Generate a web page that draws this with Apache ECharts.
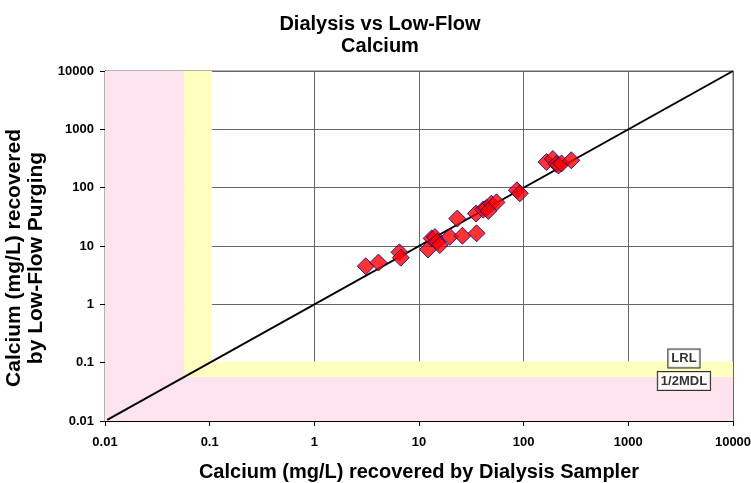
<!DOCTYPE html>
<html><head><meta charset="utf-8">
<script src="https://cdn.jsdelivr.net/npm/echarts@6/dist/echarts.min.js"></script>
<style>html,body{margin:0;padding:0;background:#fff}#c{width:751px;height:483px}</style>
</head><body><div id="c"></div>
<script>
const titleLines = ['Dialysis vs Low-Flow', 'Calcium'];
const xAxisName = 'Calcium (mg/L) recovered by Dialysis Sampler';
const yAxisName = 'Calcium (mg/L) recovered\nby Low-Flow Purging';
const axisMin = 0.01, axisMax = 10000;
const tickLabels = ['0.01','0.1','1','10','100','1000','10000'];
const halfMDL = 0.057;
const LRL = 0.105;
const dialysis = [3.1, 4.1, 6.5, 6.7, 12.2, 13.2, 14.2, 14.9, 15.8, 19.7, 26, 35.5, 23.2, 35, 41, 44, 49, 55, 46, 86, 92, 165, 190, 205, 215, 230, 285];
const lowFlow  = [4.5, 5.2, 7.8, 6.3, 8.7, 13.5, 14.2, 11.8, 10.4, 14.4, 15, 16.5, 29.5, 36, 42, 45, 53, 56, 40, 90, 80, 275, 310, 255, 240, 260, 295];
const oneToOne = [[0.0105, 0.0105], [10000, 10000]];
const refLabels = [{text:'LRL', x:3400, y:0.118}, {text:'1/2MDL', x:3400, y:0.0485}];

const chart = echarts.init(document.getElementById('c'));
const fmt = v => {
  const s = tickLabels.find(t => Math.abs(parseFloat(t) - v) / v < 1e-6);
  return s || '';
};
const FONT = 'Liberation Sans, Arial, sans-serif';
const axisCommon = {
  type: 'log', logBase: 10, min: axisMin, max: axisMax,
  axisLine: {show: true, lineStyle: {color: '#000', width: 1}},
  axisTick: {show: true, length: 5, lineStyle: {color: '#000'}},
  splitLine: {show: true, lineStyle: {color: '#666', width: 1}},
  minorTick: {show: false},
  axisLabel: {formatter: fmt, color: '#000', fontWeight: 'bold', fontSize: 13, fontFamily: FONT},
  nameTextStyle: {color: '#000', fontWeight: 'bold', fontSize: 20, fontFamily: FONT}
};
const pts = dialysis.map((x, i) => [x, lowFlow[i]]);
chart.setOption({
  animation: false,
  backgroundColor: '#fff',
  title: {
    text: titleLines.join('\n'), left: 375, top: 8, textAlign: 'center',
    textStyle: {fontSize: 20, fontWeight: 'bold', color: '#000', fontFamily: FONT, lineHeight: 22}
  },
  grid: {left: 105, top: 71, width: 628, height: 350, show: true, borderColor: '#666', borderWidth: 1,
    containLabel: false, outerBoundsMode: 'none'},
  xAxis: Object.assign({}, axisCommon, {name: xAxisName, nameLocation: 'middle', nameGap: 41,
    axisLabel: Object.assign({}, axisCommon.axisLabel, {margin: 15})}),
  yAxis: Object.assign({}, axisCommon, {name: yAxisName, nameLocation: 'middle', nameGap: 56,
    nameTextStyle: Object.assign({}, axisCommon.nameTextStyle, {fontSize: 21, lineHeight: 22, padding: [0, 24, 0, 0]}),
    axisLabel: Object.assign({}, axisCommon.axisLabel, {margin: 11})}),
  series: [
    {
      type: 'line', data: [], silent: true, z: 1,
      markArea: {
        silent: true,
        data: [
          [{coord: [halfMDL, axisMin], itemStyle: {color: '#FFFFC0'}}, {coord: [LRL, axisMax]}],
          [{coord: [axisMin, halfMDL], itemStyle: {color: '#FFFFC0'}}, {coord: [axisMax, LRL]}],
          [{coord: [axisMin, axisMin], itemStyle: {color: '#FFE4F0'}}, {coord: [halfMDL, axisMax]}],
          [{coord: [axisMin, axisMin], itemStyle: {color: '#FFE4F0'}}, {coord: [axisMax, halfMDL]}]
        ]
      }
    },
    {
      type: 'line', data: oneToOne, symbol: 'none', z: 3,
      lineStyle: {color: '#000', width: 2}
    },
    {
      type: 'scatter', data: pts, symbol: 'diamond', symbolSize: 17, z: 4,
      itemStyle: {color: '#FF0000', borderColor: '#000080', borderWidth: 1}
    },
    {
      type: 'scatter', data: refLabels.map(r => ({value: [r.x, r.y], label: {formatter: r.text}})),
      symbolSize: 0, z: 5,
      label: {show: true, position: 'inside', color: '#000', fontWeight: 'bold', fontSize: 13, fontFamily: FONT,
        backgroundColor: '#fff', borderColor: '#000', borderWidth: 1, padding: [3, 3, 2, 3]}
    }
  ]
});
</script></body></html>
